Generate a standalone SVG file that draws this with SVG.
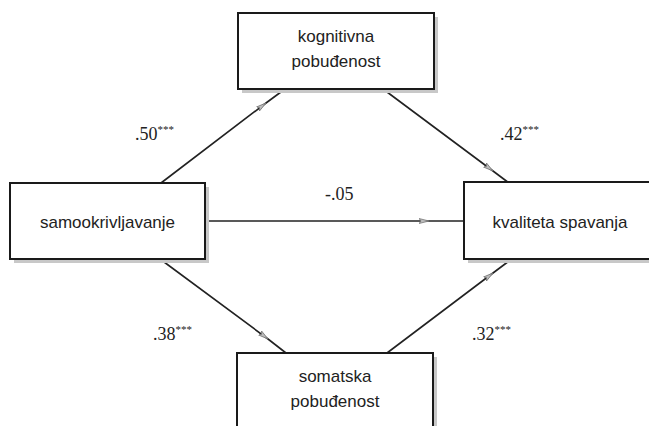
<svg xmlns="http://www.w3.org/2000/svg" width="649" height="426" viewBox="0 0 649 426">
<style>
.box{fill:#fff;stroke:#1a1a1a;stroke-width:2}
.shadow{fill:#c8c8c8}
.t{font-family:"Liberation Sans",Arial,sans-serif;font-size:17px;fill:#222;text-anchor:middle}
.lab{font-family:"Liberation Serif","Times New Roman",serif;font-size:18px;fill:#222}
.sup{font-size:11px}
.conn{fill:none;stroke:#222;stroke-width:1.6;marker-mid:url(#ah)}
</style>
<defs>
<marker id="ah" viewBox="0 0 10 6" refX="10" refY="3" markerWidth="10" markerHeight="6" markerUnits="userSpaceOnUse" orient="auto">
<path d="M0,0.5 L10,3 L0,5.5 L2,3 Z" fill="#bdbdbd" stroke="#777" stroke-width="0.8"/>
</marker>
</defs>
<rect width="649" height="426" fill="#fff"/>
<g id="connectors">
<path class="conn" d="M161,183 L266,103 L285,89"/>
<path class="conn" d="M383,89 L493,171 L509,183"/>
<path class="conn" d="M205,221 L429,221 L464,221"/>
<path class="conn" d="M160,259 L268,339 L286,353"/>
<path class="conn" d="M387,353 L493,273 L509,261"/>
</g>
<g id="node-kognitivna">
<rect class="shadow" x="242" y="17" width="196" height="76"/>
<rect class="box" x="238" y="13" width="196" height="76"/>
<text class="t" x="336" y="42">kognitivna</text>
<text class="t" x="336" y="67">pobuđenost</text>
</g>
<g id="node-samookrivljavanje">
<rect class="shadow" x="14" y="187" width="195" height="76"/>
<rect class="box" x="10" y="183" width="195" height="76"/>
<text class="t" x="107.5" y="228">samookrivljavanje</text>
</g>
<g id="node-kvaliteta">
<rect class="shadow" x="468" y="186" width="196" height="77"/>
<rect class="box" x="464" y="182" width="196" height="77"/>
<text class="t" x="560" y="228">kvaliteta spavanja</text>
</g>
<g id="node-somatska">
<rect class="shadow" x="241" y="357" width="196" height="80"/>
<rect class="box" x="237" y="353" width="196" height="80"/>
<text class="t" x="335" y="382">somatska</text>
<text class="t" x="335" y="407">pobuđenost</text>
</g>
<g id="labels">
<text class="lab" x="135" y="140">.50<tspan class="sup" dy="-7">***</tspan></text>
<text class="lab" x="500" y="140">.42<tspan class="sup" dy="-7">***</tspan></text>
<text class="lab" x="325" y="200">-.05</text>
<text class="lab" x="153" y="340">.38<tspan class="sup" dy="-7">***</tspan></text>
<text class="lab" x="472" y="340">.32<tspan class="sup" dy="-7">***</tspan></text>
</g>
</svg>
